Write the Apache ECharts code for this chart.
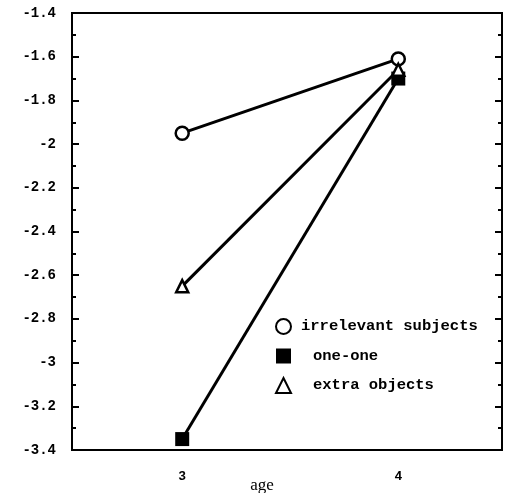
<!DOCTYPE html>
<html><head><meta charset="utf-8">
<script src="https://cdn.jsdelivr.net/npm/echarts@6/dist/echarts.min.js"></script>
<style>html,body{margin:0;padding:0;background:#fff}#c{width:510px;height:493px}</style>
</head><body><div id="c"></div>
<script>
const categories = [3, 4];
const irrelevantSubjects = [-1.95, -1.61];
const oneOne = [-3.35, -1.70];
const extraObjects = [-2.65, -1.66];
const yTicks = { min: -3.4, max: -1.4, step: 0.2 };
const xRange = { min: 2.49, max: 4.48 };

const pairs = vals => categories.map((c, i) => [c, vals[i]]);
const chart = echarts.init(document.getElementById('c'));
const mono = 'Liberation Mono';
const yBase = {
  type: 'value', min: yTicks.min, max: yTicks.max, interval: yTicks.step,
  axisLine: { show: true, lineStyle: { color: '#000', width: 2 } },
  axisTick: { show: true, inside: true, length: 7, lineStyle: { color: '#000', width: 2 } },
  minorTick: { show: true, splitNumber: 2, length: 4, lineStyle: { color: '#000', width: 2 } },
  splitLine: { show: false }
};
chart.setOption({
  animation: false,
  backgroundColor: '#fff',
  grid: { left: 72, right: 8, top: 13, bottom: 43, show: true, borderColor: '#000', borderWidth: 2,
          containLabel: false, outerBoundsMode: 'none' },
  legend: {
    orient: 'vertical', left: 270, top: 313, itemGap: 13, itemWidth: 15, itemHeight: 15,
    textStyle: { fontFamily: mono, fontWeight: 'bold', fontSize: 15.5, color: '#000' },
    data: [
      { name: 'irrelevant subjects', icon: 'circle', itemStyle: { color: '#fff', borderColor: '#000', borderWidth: 2 },
        textStyle: { padding: [0, 0, 0, 5] } },
      { name: 'one-one', icon: 'rect', itemStyle: { color: '#000', borderWidth: 0 },
        textStyle: { padding: [0, 0, 0, 17] } },
      { name: 'extra objects', icon: 'triangle', itemStyle: { color: '#fff', borderColor: '#000', borderWidth: 2 },
        textStyle: { padding: [0, 0, 0, 17] } }
    ]
  },
  xAxis: {
    type: 'value', min: xRange.min, max: xRange.max,
    axisLine: { lineStyle: { color: '#000', width: 2 } },
    axisTick: { show: false },
    splitLine: { show: false },
    axisLabel: { customValues: categories, margin: 20, fontFamily: mono, fontWeight: 'bold', fontSize: 13, color: '#000' },
    name: 'age', nameLocation: 'middle', nameGap: 27, nameMoveOverlap: false,
    nameTextStyle: { fontFamily: 'Liberation Serif', fontSize: 17, color: '#000', padding: [0, 50, 0, 0] }
  },
  yAxis: [
    Object.assign({}, yBase, {
      position: 'left',
      axisLabel: { margin: 16, fontFamily: mono, fontWeight: 'bold', fontSize: 14, color: '#000' }
    }),
    Object.assign({}, yBase, { position: 'right', axisLabel: { show: false } })
  ],
  series: [
    { name: 'irrelevant subjects', type: 'line', data: pairs(irrelevantSubjects), symbol: 'circle', symbolSize: 13,
      lineStyle: { color: '#000', width: 3 }, itemStyle: { color: '#fff', borderColor: '#000', borderWidth: 2.5 }, z: 3 },
    { name: 'one-one', type: 'line', data: pairs(oneOne), symbol: 'rect', symbolSize: 14,
      lineStyle: { color: '#000', width: 3 }, itemStyle: { color: '#000', borderColor: '#000', borderWidth: 0 }, z: 2 },
    { name: 'extra objects', type: 'line', data: pairs(extraObjects), symbol: 'triangle', symbolSize: 12,
      lineStyle: { color: '#000', width: 3 }, itemStyle: { color: '#fff', borderColor: '#000', borderWidth: 2.5 }, z: 4 }
  ]
});
</script></body></html>
